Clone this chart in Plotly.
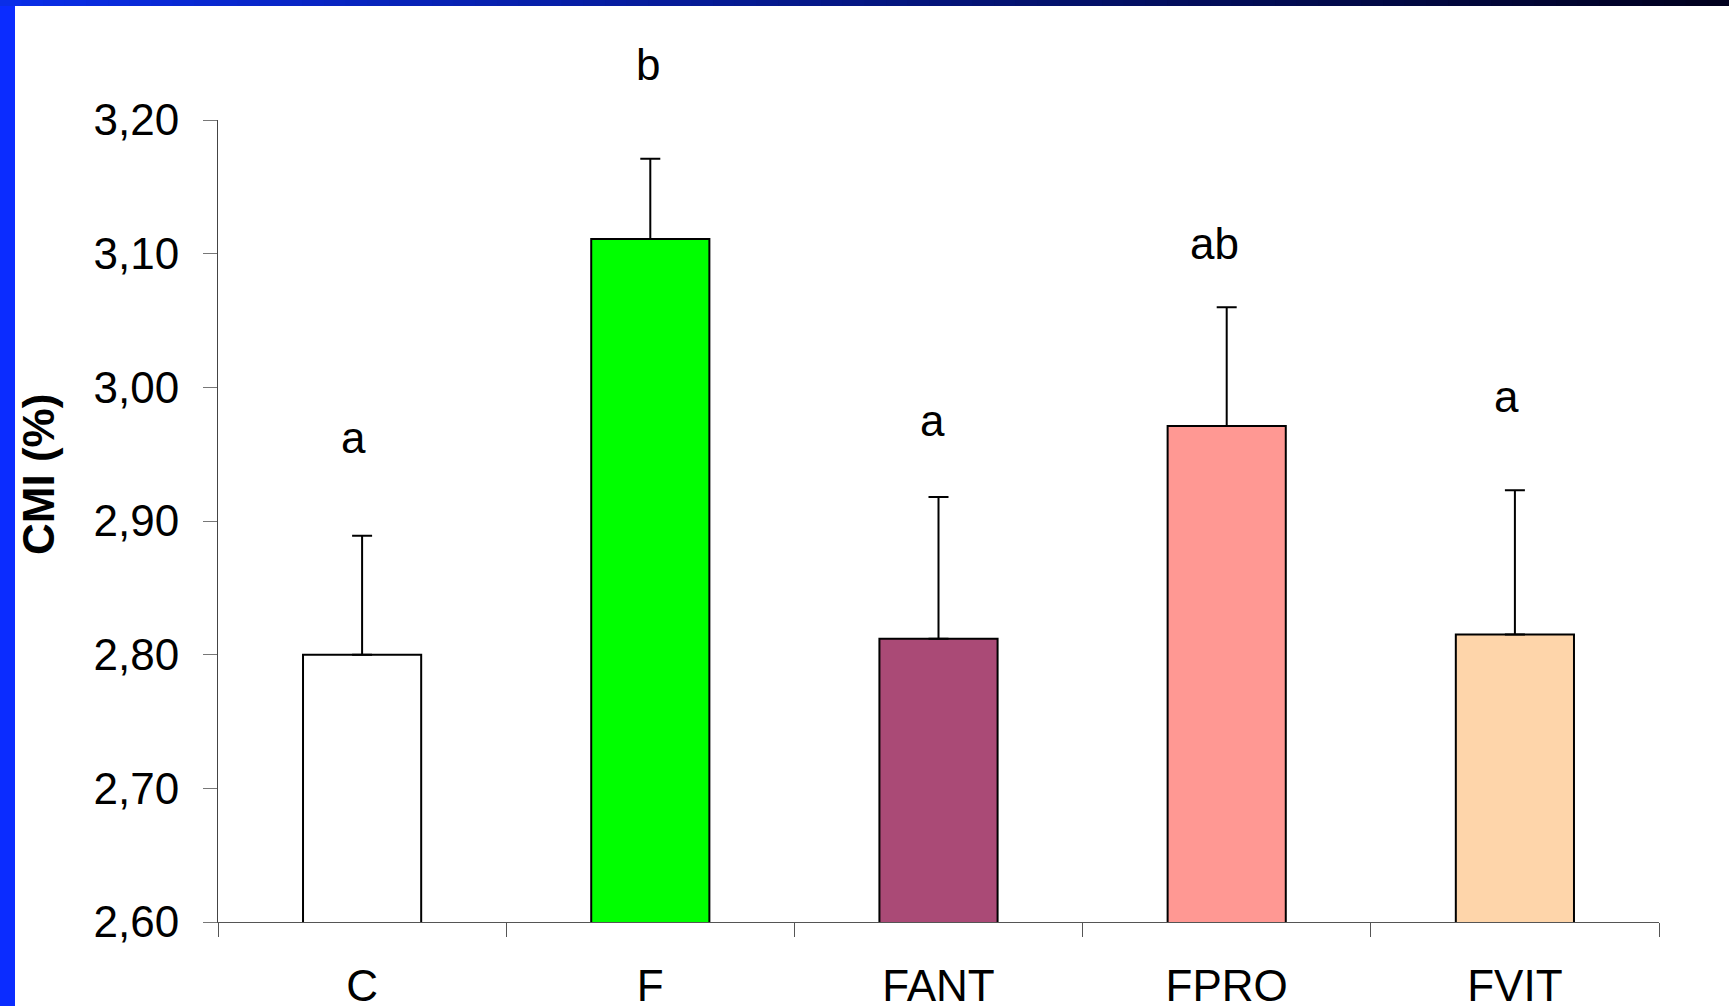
import plotly.graph_objects as go

categories = ["C", "F", "FANT", "FPRO", "FVIT"]
values = [2.800, 3.111, 2.812, 2.971, 2.815]
errors = [0.089, 0.060, 0.106, 0.089, 0.108]
colors = ["#ffffff", "#00ff00", "#aa4a76", "#ff9893", "#fed5aa"]
letters = ["a", "b", "a", "ab", "a"]
letter_y = [2.943, 3.222, 2.955, 3.088, 2.973]
letter_xshift = [-9, -2, -6, -12, -8]
y_ticks = [2.60, 2.70, 2.80, 2.90, 3.00, 3.10, 3.20]
Y_MIN, Y_MAX = 2.6, 3.2

FONT = "Arial, 'Liberation Sans', sans-serif"

W, H = 1729, 1006
ML, MR, MT, MB = 218, 70, 120, 84
PW, PH = W - ML - MR, H - MT - MB


def px_x(p):
    return (p - ML) / PW


def px_y(p):  # p measured from top of page
    return (H - MB - p) / PH


fig = go.Figure()
fig.add_trace(go.Bar(
    x=categories, y=values, width=0.41,
    marker=dict(color=colors, line=dict(color="#000000", width=2)),
    error_y=dict(type="data", symmetric=False, array=errors,
                 arrayminus=[0] * len(errors), color="#000000",
                 thickness=2, width=10),
    showlegend=False,
))

for cat, lab, ly, xs in zip(categories, letters, letter_y, letter_xshift):
    fig.add_annotation(x=cat, y=(ly - Y_MIN) / (Y_MAX - Y_MIN), yref="paper",
                       text=lab, showarrow=False,
                       xanchor="center", yanchor="bottom", xshift=xs,
                       font=dict(size=44, color="#000000", family=FONT))

fig.add_annotation(text="<b>CMI (%)</b>", xref="paper", yref="paper",
                   x=px_x(38), y=px_y(475), textangle=-90,
                   showarrow=False, xanchor="center", yanchor="middle",
                   font=dict(size=44, color="#000000", family=FONT))

# decorative slide frame: left blue band and top gradient band
shapes = [dict(type="rect", xref="paper", yref="paper",
               x0=px_x(0), x1=px_x(15), y0=px_y(H), y1=px_y(0),
               fillcolor="#0b2cff", line=dict(width=0), layer="above")]
n = 80
c0 = (10, 46, 232)
for i in range(n):
    t = i / (n - 1)
    r = int(c0[0] * (1 - t))
    g = int(c0[1] * (1 - t))
    b = int(c0[2] * (1 - t) + 30 * t)
    shapes.append(dict(type="rect", xref="paper", yref="paper",
                       x0=px_x(W * i / n), x1=px_x(W * (i + 1) / n + 1),
                       y0=px_y(6), y1=px_y(0),
                       fillcolor=f"rgb({r},{g},{b})", line=dict(width=0), layer="above"))
fig.update_layout(shapes=shapes)

fig.update_layout(
    width=W, height=H,
    margin=dict(l=ML, r=MR, t=MT, b=MB),
    paper_bgcolor="#ffffff", plot_bgcolor="#ffffff",
    separators=",.",
    font=dict(family=FONT, size=44, color="#000000"),
    xaxis=dict(
        type="category", showgrid=False, zeroline=False, automargin=False,
        showline=True, linecolor="#555555", linewidth=1,
        ticks="outside", ticklen=14, tickcolor="#555555", tickwidth=1,
        tickson="boundaries", ticklabelstandoff=25,
        tickfont=dict(size=44, family=FONT, color="#000000"),
        range=[-0.5, 4.5],
    ),
    yaxis=dict(
        range=[Y_MIN, Y_MAX], tickvals=y_ticks, tickformat=".2f",
        showgrid=False, zeroline=False, automargin=False,
        showline=True, linecolor="#444444", linewidth=1,
        ticks="outside", ticklen=14, tickcolor="#777777", tickwidth=1,
        ticklabelstandoff=15,
        tickfont=dict(size=44, family=FONT, color="#000000"),
    ),
)

fig.write_html("out.html")
